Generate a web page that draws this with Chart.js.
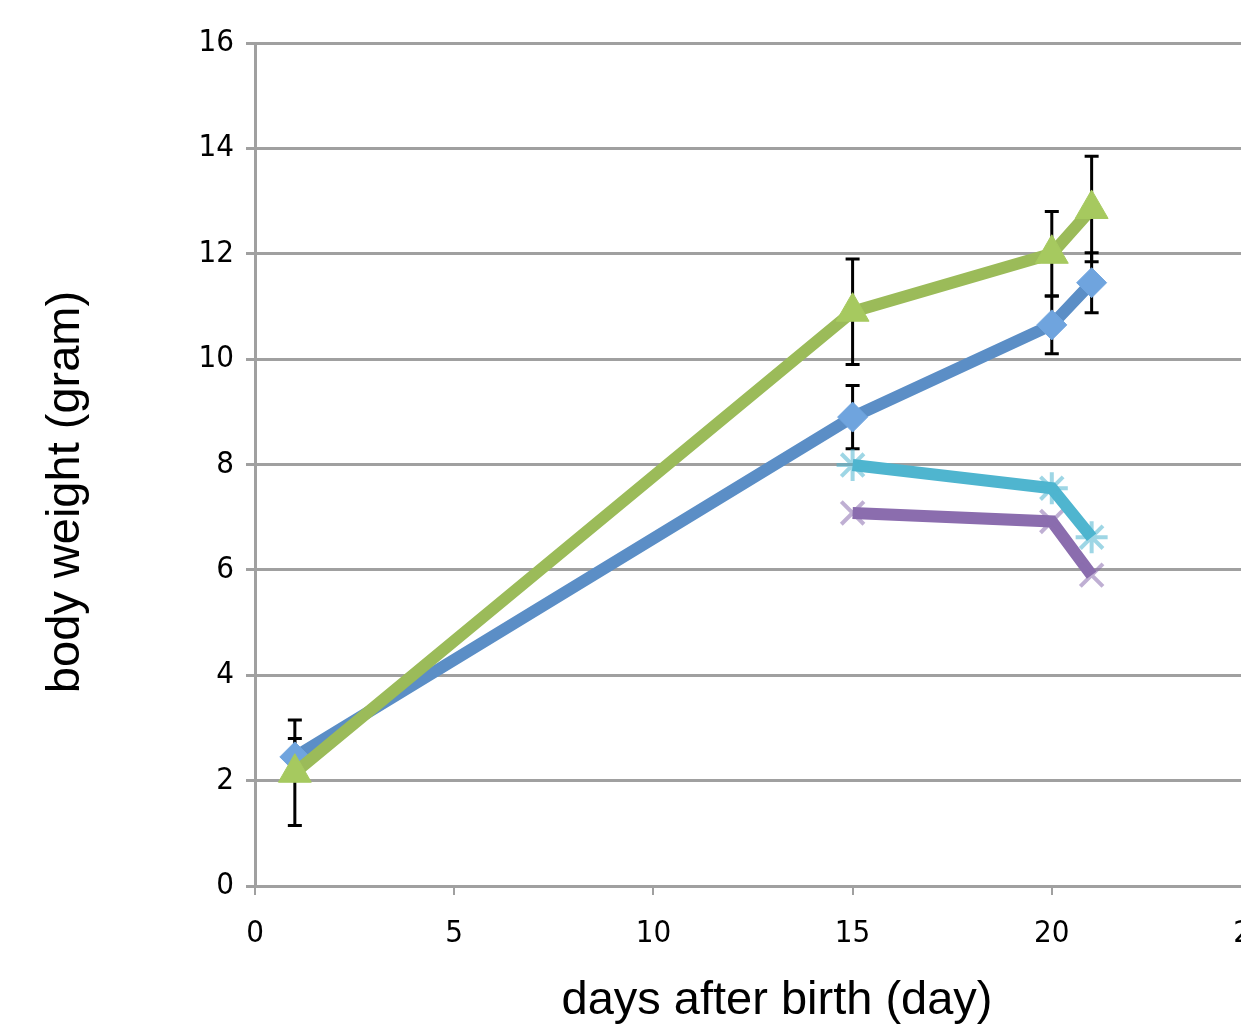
<!DOCTYPE html>
<html lang="en">
<head>
    <meta charset="UTF-8">
    <title>Body weight</title>
    <script src="https://cdn.jsdelivr.net/npm/chart.js"></script>
    <style>
        body {
            margin: 0;
            padding: 0;
            background: #fff;
            overflow: hidden;
        }
        .chart-box {
            width: 1300px;
            height: 1027px;
        }
    </style>
</head>
<body>
    <div class="chart-box">
        <canvas id="weightChart"></canvas>
    </div>

    <script>
        // data
        const days = [1, 15, 20, 21];
        const greenWeight = [2.15, 10.9, 12.0, 12.85];
        const greenErr = [1.0, 1.0, 0.8, 1.0];
        const blueWeight = [2.45, 8.9, 10.65, 11.45];
        const blueErr = [0.35, 0.6, 0.55, 0.57];
        const lateDays = [15, 20, 21];
        const cyanWeight = [7.99, 7.55, 6.62];
        const purpleWeight = [7.08, 6.92, 5.9];
        const xTicks = [0, 5, 10, 15, 20, 25];
        const yTicks = [0, 2, 4, 6, 8, 10, 12, 14, 16];
        const xTitle = 'days after birth (day)';
        const yTitle = 'body weight (gram)';

        const pts = (xs, ys) => xs.map((x, i) => ({ x: x, y: ys[i] }));
        const tickFont = { family: "'Liberation Sans Narrow', 'DejaVu Sans Condensed', sans-serif", size: 31 };
        const titleFont = "47px 'Liberation Sans', Arial, sans-serif";

        // simple error bars drawn through the scales
        const errorBars = {
            id: 'errorBars',
            beforeDatasetsDraw(chart) {
                const ctx = chart.ctx;
                const xs = chart.scales.x, ys = chart.scales.y;
                ctx.save();
                ctx.strokeStyle = '#000';
                ctx.lineWidth = 3;
                chart.data.datasets.forEach(ds => {
                    if (!ds.err) return;
                    ds.data.forEach((p, i) => {
                        const px = xs.getPixelForValue(p.x);
                        const top = ys.getPixelForValue(p.y + ds.err[i]);
                        const bot = ys.getPixelForValue(p.y - ds.err[i]);
                        ctx.beginPath();
                        ctx.moveTo(px, top); ctx.lineTo(px, bot);
                        ctx.moveTo(px - 7, top); ctx.lineTo(px + 7, top);
                        ctx.moveTo(px - 7, bot); ctx.lineTo(px + 7, bot);
                        ctx.stroke();
                    });
                });
                ctx.restore();
            }
        };

        // axis titles, placed like the original (off-centre from the plot area)
        const axisTitles = {
            id: 'axisTitles',
            afterDraw(chart) {
                const ctx = chart.ctx;
                ctx.save();
                ctx.fillStyle = '#000';
                ctx.font = titleFont;
                ctx.textAlign = 'center';
                ctx.textBaseline = 'middle';
                ctx.fillText(xTitle, 777, 1001);
                ctx.translate(66, 492);
                ctx.rotate(-Math.PI / 2);
                ctx.fillText(yTitle, 0, 0);
                ctx.restore();
            }
        };

        new Chart(document.getElementById('weightChart'), {
            type: 'scatter',
            data: {
                datasets: [
                    {
                        data: pts(days, greenWeight), err: greenErr, showLine: true,
                        borderColor: '#9BBB59', borderWidth: 12,
                        pointStyle: 'triangle', pointRadius: 19, pointBackgroundColor: '#A6C95F',
                        pointBorderColor: '#A6C95F', pointBorderWidth: 1
                    },
                    {
                        data: pts(days, blueWeight), err: blueErr, showLine: true,
                        borderColor: '#5B8EC6', borderWidth: 12,
                        pointStyle: 'rectRot', pointRadius: 15, pointBackgroundColor: '#6FA4DE',
                        pointBorderColor: '#6FA4DE', pointBorderWidth: 1
                    },
                    {
                        data: pts(lateDays, cyanWeight), showLine: true,
                        borderColor: '#4FB5CF', borderWidth: 12,
                        pointStyle: 'star', pointRadius: 16, pointBorderColor: 'rgba(79,181,207,0.55)',
                        pointBorderWidth: 4
                    },
                    {
                        data: pts(lateDays, purpleWeight), showLine: true,
                        borderColor: '#8B6DAE', borderWidth: 12,
                        pointStyle: 'crossRot', pointRadius: 16, pointBorderColor: 'rgba(139,109,174,0.55)',
                        pointBorderWidth: 4
                    }
                ]
            },
            options: {
                responsive: true,
                maintainAspectRatio: false,
                animation: false,
                layout: { padding: { top: 43, right: 49, left: 0, bottom: 0 } },
                plugins: {
                    legend: { display: false },
                    tooltip: { enabled: false }
                },
                scales: {
                    x: {
                        type: 'linear',
                        min: 0,
                        max: 25,
                        afterBuildTicks: s => { s.ticks = xTicks.map(v => ({ value: v })); },
                        afterFit: s => { s.height = 141; },
                        grid: { drawOnChartArea: false, color: '#a0a0a0', lineWidth: 2, tickLength: 9 },
                        border: { color: '#a0a0a0', width: 3 },
                        ticks: { color: '#000', font: tickFont, padding: 20, maxRotation: 0 }
                    },
                    y: {
                        min: 0,
                        max: 16,
                        afterBuildTicks: s => { s.ticks = yTicks.map(v => ({ value: v })); },
                        afterFit: s => { s.width = 255; },
                        grid: { color: '#a0a0a0', lineWidth: 3, tickLength: 9 },
                        border: { color: '#a0a0a0', width: 3 },
                        ticks: { color: '#000', font: tickFont, padding: 12 }
                    }
                }
            },
            plugins: [errorBars, axisTitles]
        });
    </script>
</body>
</html>
